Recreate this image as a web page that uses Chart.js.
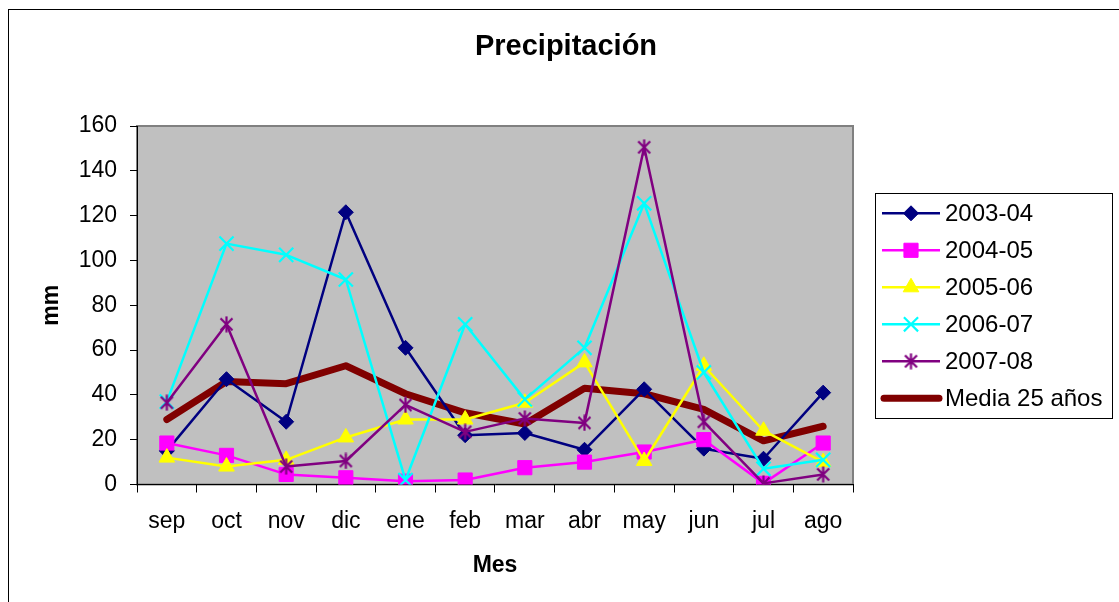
<!DOCTYPE html>
<html>
<head>
<meta charset="utf-8">
<script src="https://cdn.jsdelivr.net/npm/chart.js@4.4.1/dist/chart.umd.min.js"></script>
<style>
html,body{margin:0;padding:0;background:#fff;}
#wrap{width:1119px;height:602px;position:relative;}
</style>
</head>
<body>
<div id="wrap"><canvas id="c" width="1119" height="602"></canvas></div>
<script>
const months = ['sep','oct','nov','dic','ene','feb','mar','abr','may','jun','jul','ago'];
const s2003_04 = [15, 47, 28, 121.5, 61, 22, 23, 15.5, 42.5, 16, 11.5, 41];
const s2004_05 = [18.5, 13, 4.5, 3, 1.5, 2, 7.5, 10, 14.5, 20, 0.5, 18.5];
const s2005_06 = [12, 8, 11, 21, 29, 29, 36.5, 54.5, 10.5, 53, 24, 10];
const s2006_07 = [37, 107.5, 102.5, 91.5, 2, 71.5, 38, 61, 125.5, 50, 7, 11];
const s2007_08 = [36.5, 71.5, 8, 10.5, 35.5, 23.5, 29.5, 27.5, 150.5, 28, 0.5, 4.5];
const media25 = [29, 46, 45, 53, 40.5, 32, 27, 43, 40.5, 33.5, 19.5, 26];
const yTicks = [0, 20, 40, 60, 80, 100, 120, 140, 160];

const FONT = '"Liberation Sans", Arial, Helvetica, sans-serif';

// Excel-style asterisk marker (X plus vertical bar)
function makeStar(color) {
  const c = document.createElement('canvas');
  c.width = 17; c.height = 17;
  const g = c.getContext('2d');
  g.strokeStyle = color; g.lineWidth = 2.2; g.lineCap = 'butt';
  g.beginPath();
  g.moveTo(2.5, 2.5); g.lineTo(14.5, 14.5);
  g.moveTo(14.5, 2.5); g.lineTo(2.5, 14.5);
  g.moveTo(8.5, 0.5); g.lineTo(8.5, 16.5);
  g.stroke();
  return c;
}

function ds(label, data, color, style, radius, order, extra) {
  return Object.assign({
    label, data,
    borderColor: color, backgroundColor: color,
    pointBackgroundColor: color, pointBorderColor: color,
    pointStyle: style, pointRadius: radius, pointBorderWidth: 1,
    borderWidth: 2.5, tension: 0, order: order,
    borderJoinStyle: 'round'
  }, extra || {});
}

const datasets = [
  ds('2003-04', s2003_04, '#000080', 'rectRot', 7.5, 5),
  ds('2004-05', s2004_05, '#FF00FF', 'rect', 10, 4),
  ds('2005-06', s2005_06, '#FFFF00', 'triangle', 9, 3),
  ds('2006-07', s2006_07, '#00FFFF', 'crossRot', 10, 2, {pointBorderWidth: 2.2}),
  ds('2007-08', s2007_08, '#800080', makeStar('#800080'), 8, 1),
  ds('Media 25 años', media25, '#800000', false, 0, 10, {borderWidth: 7, borderCapStyle: 'round', pointRadius: 0})
];

const decor = {
  id: 'decor',
  beforeDraw(chart) {
    const ctx = chart.ctx, a = chart.chartArea;
    ctx.save();
    ctx.fillStyle = '#fff';
    ctx.fillRect(0, 0, chart.width, chart.height);
    ctx.strokeStyle = '#000';
    ctx.lineWidth = 1;
    ctx.strokeRect(8.5, 9.5, 1300, 800);
    ctx.fillStyle = '#C0C0C0';
    ctx.fillRect(a.left, a.top, a.right - a.left, a.bottom - a.top);
    ctx.strokeStyle = '#808080';
    ctx.lineWidth = 2;
    ctx.strokeRect(a.left, a.top, a.right - a.left, a.bottom - a.top);
    ctx.restore();
  },
  afterDraw(chart) {
    const ctx = chart.ctx;
    ctx.save();
    ctx.fillStyle = '#000';
    ctx.font = 'bold 29px ' + FONT;
    ctx.textAlign = 'center';
    ctx.textBaseline = 'middle';
    ctx.fillText('Precipitación', 566, 46.5);
    ctx.strokeStyle = '#000';
    ctx.lineWidth = 1;
    ctx.strokeRect(875.5, 193.5, 237, 225);
    const rowY0 = 213.3, rowStep = 37;
    chart.data.datasets.forEach((d, i) => {
      const y = rowY0 + i * rowStep;
      ctx.save();
      ctx.strokeStyle = d.borderColor;
      ctx.lineWidth = d.borderWidth;
      ctx.lineCap = d.borderCapStyle === 'round' ? 'round' : 'butt';
      ctx.beginPath();
      const x0 = d.borderWidth > 4 ? 884 : 882;
      const x1 = d.borderWidth > 4 ? 939 : 940;
      ctx.moveTo(x0, y); ctx.lineTo(x1, y);
      ctx.stroke();
      ctx.restore();
      if (d.pointStyle && d.pointRadius > 0) {
        ctx.save();
        ctx.fillStyle = d.pointBackgroundColor;
        ctx.strokeStyle = d.pointBorderColor;
        ctx.lineWidth = d.pointBorderWidth;
        Chart.helpers.drawPoint(ctx, {pointStyle: d.pointStyle, radius: d.pointRadius, rotation: 0, borderWidth: d.pointBorderWidth}, 911, y);
        ctx.restore();
      }
      ctx.fillStyle = '#000';
      ctx.font = '24px ' + FONT;
      ctx.textAlign = 'left';
      ctx.textBaseline = 'middle';
      ctx.fillText(d.label, 945, y + 1);
    });
    ctx.restore();
  }
};

new Chart(document.getElementById('c'), {
  type: 'line',
  data: { labels: months, datasets },
  options: {
    responsive: false,
    animation: false,
    events: [],
    layout: { padding: { left: 0, top: 126, right: 266, bottom: 0 } },
    plugins: { legend: { display: false }, title: { display: false }, tooltip: { enabled: false } },
    scales: {
      x: {
        offset: true,
        grid: { display: true, drawOnChartArea: false, offset: true, tickLength: 8, color: '#000', lineWidth: 1 },
        border: { display: true, color: '#000', width: 1 },
        ticks: { color: '#000', font: { family: FONT, size: 23 }, padding: 15, maxRotation: 0, autoSkip: false },
        title: { display: true, text: 'Mes', color: '#000', font: { family: FONT, size: 23, weight: 'bold' }, padding: { top: 0, bottom: 23 } },
        afterFit(s) { s.height = 117.5; }
      },
      y: {
        min: 0, max: 160,
        afterBuildTicks(s) { s.ticks = yTicks.map(v => ({ value: v })); },
        grid: { display: true, drawOnChartArea: false, tickLength: 7, color: '#000', lineWidth: 1 },
        border: { display: true, color: '#000', width: 1 },
        ticks: { color: '#000', font: { family: FONT, size: 23 }, padding: 13 },
        title: { display: true, text: 'mm', color: '#000', font: { family: FONT, size: 23, weight: 'bold' }, padding: { top: 38, bottom: 0 } },
        afterFit(s) { s.width = 137; }
      }
    }
  },
  plugins: [decor]
});
</script>
</body>
</html>
